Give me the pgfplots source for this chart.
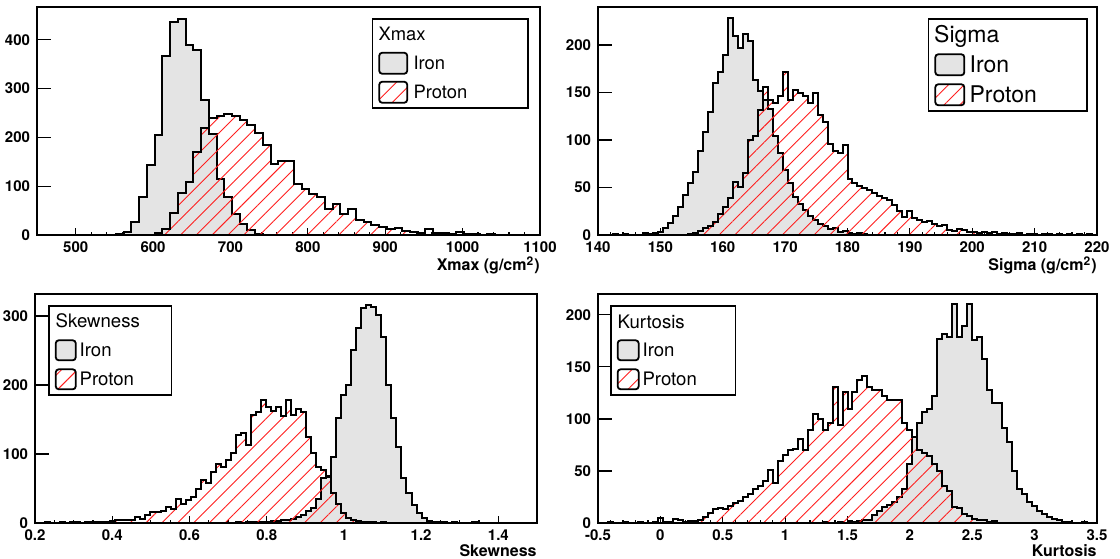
\documentclass[border=0pt]{standalone}
\usepackage{fontspec}
\setmainfont{TeX Gyre Heros}
\usepackage{pgfplots}
\pgfplotsset{compat=1.18}
\usetikzlibrary{patterns.meta}
\definecolor{irongray}{RGB}{228,228,228}
\definecolor{hatchred}{RGB}{255,30,30}
\pgfplotsset{
 rootaxis/.style={
   scale only axis, clip=true,
   axis line style={line width=0.8pt},
   tick align=inside, xtick pos=left, ytick pos=left,
   xtick style={line width=0.6pt, black, /pgfplots/major tick length=3.5pt, /pgfplots/minor tick length=1.75pt},
   ytick style={line width=0.6pt, black, /pgfplots/major tick length=7pt},
   ymin=0,
   ticklabel style={font=\fontsize{7.5}{8}\selectfont\bfseries},
   /pgf/number format/assume math mode=true,
   /pgf/number format/1000 sep={},
   scaled ticks=false,
   xlabel style={at={(rel axis cs:1,0)}, anchor=north east, inner sep=0pt, yshift=-10.5pt, font=\fontsize{8}{9}\selectfont\bfseries},
   legend cell align=left,
   legend style={draw=black, line width=0.8pt, fill=white, inner xsep=3pt, inner ysep=0.5pt, row sep=0pt, column sep=0pt},
 },
 ironhist/.style={const plot, fill=irongray, draw=black, line width=1pt, forget plot},
 protonhist/.style={const plot, draw=black, line width=1pt, pattern={Lines[angle=45,distance=5.6pt,line width=0.45pt]}, pattern color=hatchred, forget plot},
}
\begin{document}
\begin{tikzpicture}
\path[use as bounding box] (0,0) rectangle (560pt,279pt);
% ---------------- Xmax ----------------
\begin{axis}[rootaxis, at={(18.5pt,161.5pt)}, anchor=south west, width=251.5pt, height=114pt,
  xmin=450, xmax=1100, ymax=467, xtick={500,600,...,1100}, minor x tick num=4, ytick={0,100,...,400},
  xlabel={Xmax (g/cm\textsuperscript{2})},
  legend style={at={(0.978,0.952)}, anchor=north east, font=\fontsize{9.2}{11}\selectfont,
    nodes={inner sep=0pt, text height=10.25pt, text depth=4.25pt}}]
\addplot[ironhist] coordinates {(540,0) (552,3) (562,7) (572,26) (582,77) (592,144) (602,205) (612,366) (622,436) (632,443) (642,389) (652,378) (662,276) (672,206) (682,115) (692,78) (702,44) (712,22) (722,10) (732,3) (742,1) (752,0)} \closedcycle;
\addplot[protonhist] coordinates {(572,0) (582,1) (592,1) (602,4) (612,12) (622,45) (632,87) (642,108) (652,169) (662,220) (672,240) (682,243) (692,247) (702,243) (712,236) (722,226) (732,209) (742,184) (752,146) (762,151) (772,151) (782,104) (792,94) (802,85) (812,77) (822,53) (832,63) (842,43) (852,53) (862,31) (872,26) (882,20) (892,16) (902,12) (912,14) (922,9) (932,7) (942,5) (952,12) (962,4) (972,4) (982,3) (992,6) (1002,2) (1012,2) (1022,1) (1032,2) (1042,1) (1052,0)} \closedcycle;
\addlegendimage{empty legend}
\addlegendentry{\makebox[0pt][l]{\hspace*{-15.3pt}Xmax}}
\addlegendimage{legend image code/.code={\draw[fill=irongray,draw=black,line width=0.9pt,rounded corners=1.5pt] (0pt,-5.25pt) rectangle (14pt,5.25pt);}}
\addlegendentry{\makebox[57pt][l]{\hspace*{2.7pt}Iron}}
\addlegendimage{legend image code/.code={\draw[pattern={Lines[angle=45,distance=5.6pt,line width=0.45pt]},pattern color=hatchred,draw=black,line width=0.9pt,rounded corners=1.5pt] (0pt,-5.25pt) rectangle (14pt,5.25pt);}}
\addlegendentry{\makebox[57pt][l]{\hspace*{2.7pt}Proton}}
\end{axis}
% ---------------- Sigma ----------------
\begin{axis}[rootaxis, at={(299pt,161.5pt)}, anchor=south west, width=249.5pt, height=114pt,
  xmin=140, xmax=220, ymax=240, xtick={140,150,...,220}, minor x tick num=4, ytick={0,50,...,200},
  xlabel={Sigma (g/cm\textsuperscript{2})},
  legend style={at={(0.982,0.952)}, anchor=north east, font=\fontsize{11.5}{13}\selectfont,
    nodes={inner sep=0pt, text height=11.6pt, text depth=3.4pt}}]
\addplot[ironhist] coordinates {(141.6,0) (142.4,1) (143.2,0) (144.0,1) (144.8,0) (147.2,2) (148.0,1) (148.8,2) (149.6,3) (150.4,7) (151.2,13) (152.0,20) (152.8,30) (153.6,42) (154.4,55) (155.2,66) (156.0,88) (156.8,108) (157.6,130) (158.4,160) (159.2,172) (160.0,190) (160.8,228) (161.6,210) (162.4,197) (163.2,212) (164.0,204) (164.8,163) (165.6,152) (166.4,142) (167.2,133) (168.0,104) (168.8,86) (169.6,68) (170.4,55) (171.2,40) (172.0,33) (172.8,26) (173.6,20) (174.4,16) (175.2,12) (176.0,9) (176.8,6) (177.6,7) (178.4,3) (179.2,4) (180.0,2) (180.8,1) (181.6,2) (182.4,1) (183.2,0)} \closedcycle;
\addplot[protonhist] coordinates {(153.6,0) (154.4,1) (155.2,2) (156.0,4) (156.8,7) (157.6,9) (158.4,14) (159.2,22) (160.0,30) (160.8,39) (161.6,56) (162.4,51) (163.2,65) (164.0,100) (164.8,104) (165.6,132) (166.4,156) (167.2,142) (168.0,139) (168.8,146) (169.6,172) (170.4,142) (171.2,153) (172.0,149) (172.8,146) (173.6,139) (174.4,150) (175.2,126) (176.0,119) (176.8,96) (177.6,88) (178.4,86) (179.2,95) (180.0,59) (180.8,55) (181.6,52) (182.4,49) (183.2,47) (184.0,44) (184.8,41) (185.6,39) (186.4,37) (187.2,32) (188.0,25) (188.8,19) (189.6,25) (190.4,18) (191.2,16) (192.0,14) (192.8,15) (193.6,12) (194.4,9) (195.2,11) (196.0,5) (196.8,4) (197.6,6) (198.4,5) (199.2,3) (200.0,3) (200.8,2) (201.6,3) (202.4,2) (203.2,3) (204.0,1) (204.8,2) (205.6,1) (206.4,1) (207.2,2) (208.0,0) (208.8,1) (209.6,1) (210.4,0) (211.2,1) (212.0,1) (212.8,0) (213.6,1) (214.4,0) (215.2,1) (216.0,0) (216.8,1) (217.6,0) (218.4,1) (219.2,0)} \closedcycle;
\addlegendimage{empty legend}
\addlegendentry{\makebox[0pt][l]{\hspace*{-16pt}Sigma}}
\addlegendimage{legend image code/.code={\draw[fill=irongray,draw=black,line width=0.9pt,rounded corners=1.5pt] (0pt,-5.25pt) rectangle (14.5pt,5.25pt);}}
\addlegendentry{\makebox[58pt][l]{\hspace*{2.2pt}Iron}}
\addlegendimage{legend image code/.code={\draw[pattern={Lines[angle=45,distance=5.6pt,line width=0.45pt]},pattern color=hatchred,draw=black,line width=0.9pt,rounded corners=1.5pt] (0pt,-5.25pt) rectangle (14.5pt,5.25pt);}}
\addlegendentry{\makebox[58pt][l]{\hspace*{2.2pt}Proton}}
\end{axis}
% ---------------- Skewness ----------------
\begin{axis}[rootaxis, at={(17.5pt,17.5pt)}, anchor=south west, width=251pt, height=114.5pt,
  xmin=0.2, xmax=1.5, ymax=332, xtick={0.2,0.4,...,1.41}, minor x tick num=3, ytick={0,100,200,300},
  xlabel={Skewness},
  legend style={at={(0.026,0.952)}, anchor=north west, font=\fontsize{9.3}{11}\selectfont,
    nodes={inner sep=0pt, text height=10.6pt, text depth=3.9pt}}]
\addplot[ironhist] coordinates {(0.707,0) (0.720,1) (0.733,0) (0.746,1) (0.759,1) (0.772,2) (0.785,2) (0.798,2) (0.811,3) (0.824,3) (0.837,4) (0.850,4) (0.863,6) (0.876,8) (0.889,12) (0.902,17) (0.915,22) (0.928,35) (0.941,65) (0.954,66) (0.967,96) (0.980,152) (0.993,185) (1.006,200) (1.019,251) (1.032,282) (1.045,311) (1.058,316) (1.071,313) (1.084,301) (1.097,270) (1.110,200) (1.123,152) (1.136,110) (1.149,65) (1.162,43) (1.175,26) (1.188,14) (1.201,7) (1.214,3) (1.227,2) (1.240,1) (1.253,2) (1.266,0) (1.279,1) (1.292,0) (1.331,1) (1.344,0)} \closedcycle;
\addplot[protonhist] coordinates {(0.213,0) (0.226,1) (0.239,0) (0.265,1) (0.278,0) (0.291,1) (0.304,1) (0.317,0) (0.330,2) (0.343,1) (0.356,1) (0.369,2) (0.382,1) (0.395,3) (0.408,4) (0.421,4) (0.434,5) (0.447,5) (0.460,9) (0.473,6) (0.486,12) (0.499,16) (0.512,16) (0.525,17) (0.538,23) (0.551,21) (0.564,35) (0.577,28) (0.590,33) (0.603,38) (0.616,50) (0.629,62) (0.642,58) (0.655,74) (0.668,86) (0.681,81) (0.694,91) (0.707,101) (0.720,127) (0.733,131) (0.746,113) (0.759,156) (0.772,161) (0.785,178) (0.798,168) (0.811,163) (0.824,168) (0.837,155) (0.850,178) (0.863,156) (0.876,166) (0.889,161) (0.902,125) (0.915,101) (0.928,81) (0.941,77) (0.954,68) (0.967,43) (0.980,28) (0.993,14) (1.006,7) (1.019,5) (1.032,3) (1.045,2) (1.058,1) (1.071,1) (1.084,0) (1.097,1) (1.110,0)} \closedcycle;
\addlegendimage{empty legend}
\addlegendentry{\makebox[0pt][l]{\hspace*{-11pt}Skewness}}
\addlegendimage{legend image code/.code={\draw[fill=irongray,draw=black,line width=0.9pt,rounded corners=1.5pt] (0pt,-5pt) rectangle (10pt,5pt);}}
\addlegendentry{\makebox[44.5pt][l]{\hspace*{1.5pt}Iron}}
\addlegendimage{legend image code/.code={\draw[pattern={Lines[angle=45,distance=5.6pt,line width=0.45pt]},pattern color=hatchred,draw=black,line width=0.9pt,rounded corners=1.5pt] (0pt,-5pt) rectangle (10pt,5pt);}}
\addlegendentry{\makebox[44.5pt][l]{\hspace*{1.5pt}Proton}}
\end{axis}
% ---------------- Kurtosis ----------------
\begin{axis}[rootaxis, at={(299pt,17.5pt)}, anchor=south west, width=249.5pt, height=114.5pt,
  xmin=-0.5, xmax=3.5, ymax=220, xtick={-0.5,0,...,3.5}, minor x tick num=4, ytick={0,50,...,200},
  xlabel={Kurtosis},
  legend style={at={(0.024,0.952)}, anchor=north west, font=\fontsize{9.3}{11}\selectfont,
    nodes={inner sep=0pt, text height=10.6pt, text depth=3.9pt}}]
\addplot[ironhist] coordinates {(1.26,0) (1.30,1) (1.34,0) (1.42,1) (1.46,0) (1.50,2) (1.54,1) (1.58,2) (1.62,3) (1.66,3) (1.70,8) (1.74,12) (1.78,15) (1.82,17) (1.86,20) (1.90,25) (1.94,33) (1.98,57) (2.02,83) (2.06,96) (2.10,107) (2.14,110) (2.18,122) (2.22,177) (2.26,182) (2.30,179) (2.34,210) (2.38,179) (2.42,189) (2.46,210) (2.50,176) (2.54,179) (2.58,158) (2.62,128) (2.66,115) (2.70,115) (2.74,91) (2.78,78) (2.82,50) (2.86,33) (2.90,28) (2.94,20) (2.98,16) (3.02,12) (3.06,9) (3.10,6) (3.14,4) (3.18,3) (3.22,1) (3.26,1) (3.30,0) (3.38,1) (3.42,0)} \closedcycle;
\addplot[protonhist] coordinates {(-0.46,0) (-0.42,1) (-0.38,0) (-0.30,1) (-0.26,0) (-0.18,1) (-0.14,0) (-0.06,1) (-0.02,5) (0.02,1) (0.06,1) (0.10,4) (0.14,3) (0.18,1) (0.22,2) (0.26,2) (0.30,3) (0.34,6) (0.38,10) (0.42,13) (0.46,14) (0.50,13) (0.54,16) (0.58,19) (0.62,21) (0.66,25) (0.70,28) (0.74,33) (0.78,36) (0.82,40) (0.86,51) (0.90,38) (0.94,60) (0.98,65) (1.02,70) (1.06,71) (1.10,81) (1.14,70) (1.18,89) (1.22,105) (1.26,100) (1.30,89) (1.34,96) (1.38,131) (1.42,94) (1.46,126) (1.50,110) (1.54,126) (1.58,137) (1.62,141) (1.66,131) (1.70,128) (1.74,128) (1.78,122) (1.82,118) (1.86,118) (1.90,118) (1.94,96) (1.98,89) (2.02,83) (2.06,70) (2.10,67) (2.14,64) (2.18,57) (2.22,50) (2.26,36) (2.30,31) (2.34,15) (2.38,14) (2.42,9) (2.46,7) (2.50,4) (2.54,3) (2.58,3) (2.62,1) (2.66,2) (2.70,0)} \closedcycle;
\addlegendimage{empty legend}
\addlegendentry{\makebox[0pt][l]{\hspace*{-11.5pt}Kurtosis}}
\addlegendimage{legend image code/.code={\draw[fill=irongray,draw=black,line width=0.9pt,rounded corners=1.5pt] (0pt,-5pt) rectangle (10.5pt,5pt);}}
\addlegendentry{\makebox[45pt][l]{\hspace*{1.5pt}Iron}}
\addlegendimage{legend image code/.code={\draw[pattern={Lines[angle=45,distance=5.6pt,line width=0.45pt]},pattern color=hatchred,draw=black,line width=0.9pt,rounded corners=1.5pt] (0pt,-5pt) rectangle (10.5pt,5pt);}}
\addlegendentry{\makebox[45pt][l]{\hspace*{1.5pt}Proton}}
\end{axis}
\end{tikzpicture}
\end{document}
